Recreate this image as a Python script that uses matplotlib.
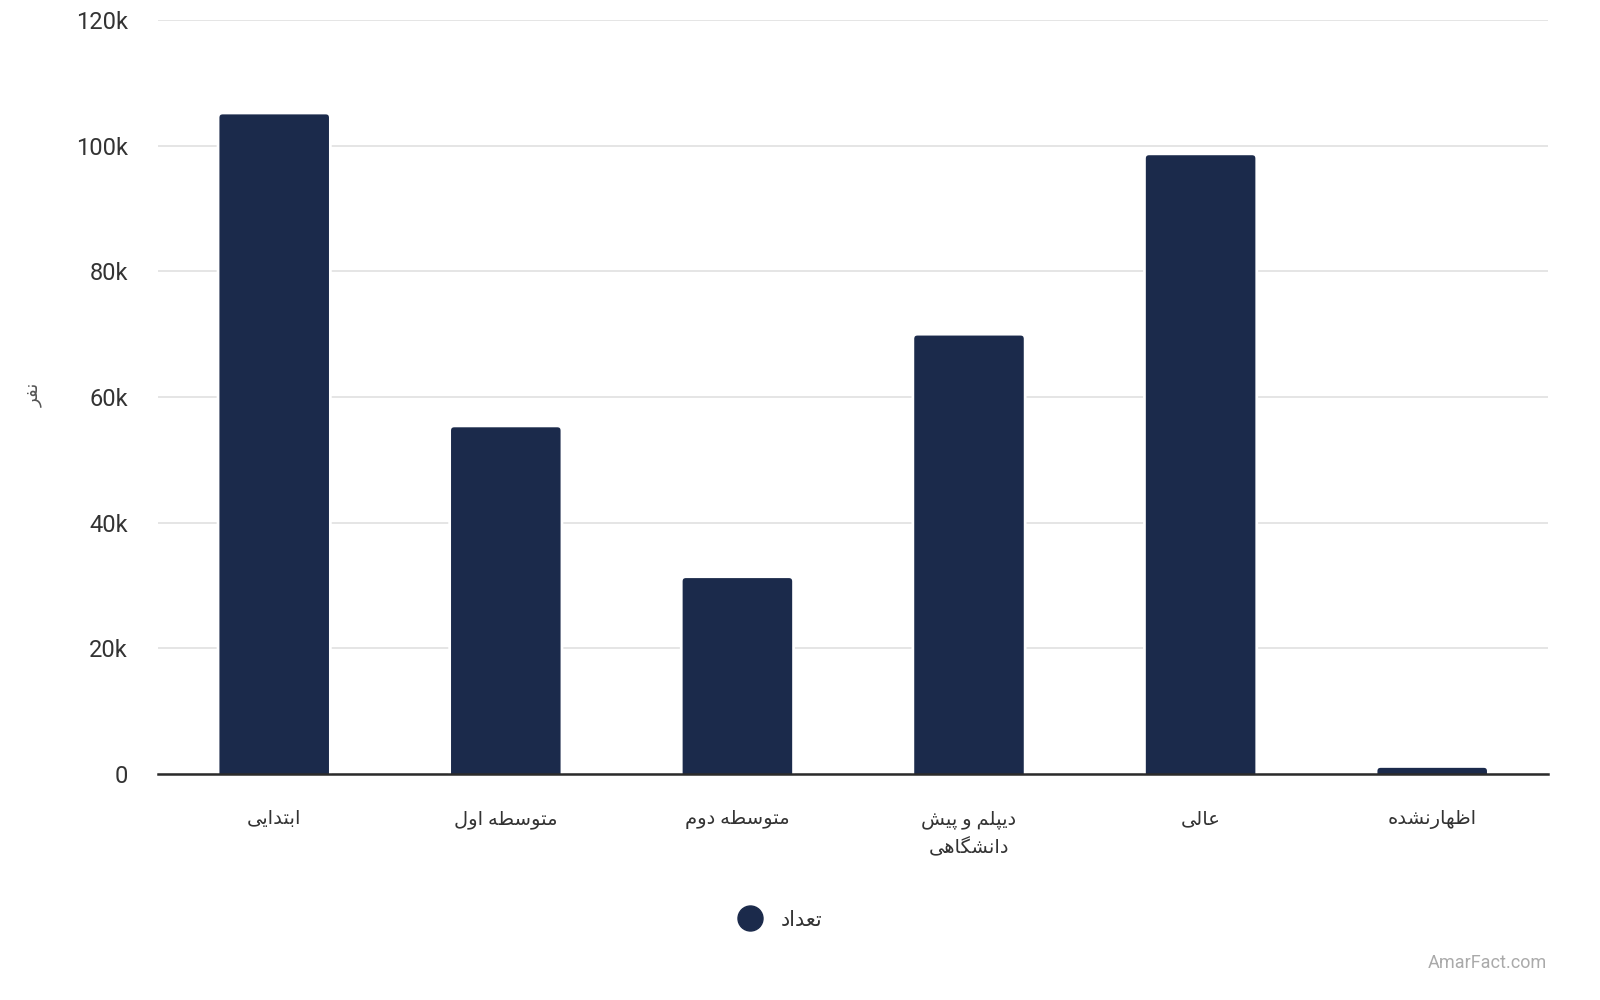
import matplotlib
matplotlib.use('Agg')
import matplotlib.pyplot as plt
from matplotlib.lines import Line2D
from matplotlib.patches import FancyBboxPatch
from matplotlib.ticker import FuncFormatter

# داده‌ها
categories = ['ابتدایی', 'متوسطه اول', 'متوسطه دوم', 'دیپلم و پیش\nدانشگاهی', 'عالی', 'اظهارنشده']
values = [105200, 55400, 31400, 70000, 98700, 1200]
series_name = 'تعداد'
y_label = 'نفر'
y_ticks = [0, 20000, 40000, 60000, 80000, 100000, 120000]
watermark = 'AmarFact.com'

bar_color = '#1b2a4b'

# matplotlib حروف فارسی را به هم نمی‌چسباند، پس شکل‌های نمایشی را خودمان انتخاب می‌کنیم
forms = {
    'ا': ('\uFE8D', '\uFE8E', None, None),
    'ب': ('\uFE8F', '\uFE90', '\uFE91', '\uFE92'),
    'پ': ('\uFB56', '\uFB57', '\uFB58', '\uFB59'),
    'ت': ('\uFE95', '\uFE96', '\uFE97', '\uFE98'),
    'د': ('\uFEA9', '\uFEAA', None, None),
    'ر': ('\uFEAD', '\uFEAE', None, None),
    'س': ('\uFEB1', '\uFEB2', '\uFEB3', '\uFEB4'),
    'ش': ('\uFEB5', '\uFEB6', '\uFEB7', '\uFEB8'),
    'ط': ('\uFEC1', '\uFEC2', '\uFEC3', '\uFEC4'),
    'ظ': ('\uFEC5', '\uFEC6', '\uFEC7', '\uFEC8'),
    'ع': ('\uFEC9', '\uFECA', '\uFECB', '\uFECC'),
    'ف': ('\uFED1', '\uFED2', '\uFED3', '\uFED4'),
    'گ': ('\uFB92', '\uFB93', '\uFB94', '\uFB95'),
    'ل': ('\uFEDD', '\uFEDE', '\uFEDF', '\uFEE0'),
    'م': ('\uFEE1', '\uFEE2', '\uFEE3', '\uFEE4'),
    'ن': ('\uFEE5', '\uFEE6', '\uFEE7', '\uFEE8'),
    'ه': ('\uFEE9', '\uFEEA', '\uFEEB', '\uFEEC'),
    'و': ('\uFEED', '\uFEEE', None, None),
    'ی': ('\uFBFC', '\uFBFD', '\uFBFE', '\uFBFF'),
}


def shape_line(s):
    out = []
    for i, ch in enumerate(s):
        if ch not in forms:
            out.append(ch)
            continue
        prev = s[i - 1] if i > 0 else ''
        nxt = s[i + 1] if i + 1 < len(s) else ''
        joins_prev = prev in forms and forms[prev][2] is not None
        joins_next = forms[ch][2] is not None and nxt in forms
        iso, fin, ini, med = forms[ch]
        if joins_prev and joins_next:
            out.append(med)
        elif joins_prev:
            out.append(fin)
        elif joins_next:
            out.append(ini)
        else:
            out.append(iso)
    return ''.join(reversed(out))


def fa(s):
    return '\n'.join(shape_line(line) for line in s.split('\n'))


plt.rcParams['font.family'] = ['Roboto', 'DejaVu Sans']

fig = plt.figure(figsize=(16, 10), dpi=100)
ax = fig.add_axes([0.099, 0.226, 0.8685, 0.754])

x = list(range(len(categories)))
bars = ax.bar(x, values, width=0.485, color=bar_color, zorder=3)

# گوشه‌های گرد بالای ستون‌ها (پایین ستون زیر محور بریده می‌شود)
mut_aspect = (120000 / 754) * (1390 / 6)
for b in bars:
    b.set_visible(False)
    r = FancyBboxPatch((b.get_x(), -3000), b.get_width(), b.get_height() + 3000,
                       boxstyle='round,pad=0,rounding_size=0.02',
                       mutation_aspect=mut_aspect,
                       facecolor=bar_color, edgecolor='white', linewidth=2,
                       zorder=3)
    ax.add_patch(r)

ax.set_xlim(-0.5, len(categories) - 0.5)
ax.set_ylim(0, 120000)
ax.set_yticks(y_ticks)
ax.yaxis.set_major_formatter(FuncFormatter(lambda v, p: '0' if v == 0 else f'{int(v / 1000)}k'))
ax.set_xticks(x)
ax.set_xticklabels([fa(c) for c in categories], fontsize=14, color='#333333',
                   multialignment='center', linespacing=1.55)

ax.tick_params(axis='y', length=0, pad=22, labelsize=17, labelcolor='#333333')
ax.tick_params(axis='x', length=0, pad=26)

ax.grid(axis='y', color='#e3e3e3', linewidth=1.3, zorder=0)
ax.set_axisbelow(True)
for side in ['top', 'right', 'left']:
    ax.spines[side].set_visible(False)
ax.spines['bottom'].set_color('#2b2b2b')
ax.spines['bottom'].set_linewidth(1.8)
ax.spines['bottom'].set_zorder(4)

ax.set_ylabel(fa(y_label), fontsize=13, color='#555555', rotation=90)
ax.yaxis.set_label_coords(-0.083, 0.503)

handle = Line2D([], [], marker='o', linestyle='', color=bar_color, markersize=18)
fig.legend([handle], [fa(series_name)], loc='center', bbox_to_anchor=(0.485, 0.08),
           frameon=False, fontsize=15, handletextpad=0.5, labelcolor='#333333')

fig.text(0.967, 0.037, watermark, ha='right', va='center', fontsize=13, color='#aaaaaa')

fig.savefig('out.png', dpi=100, facecolor='white')
